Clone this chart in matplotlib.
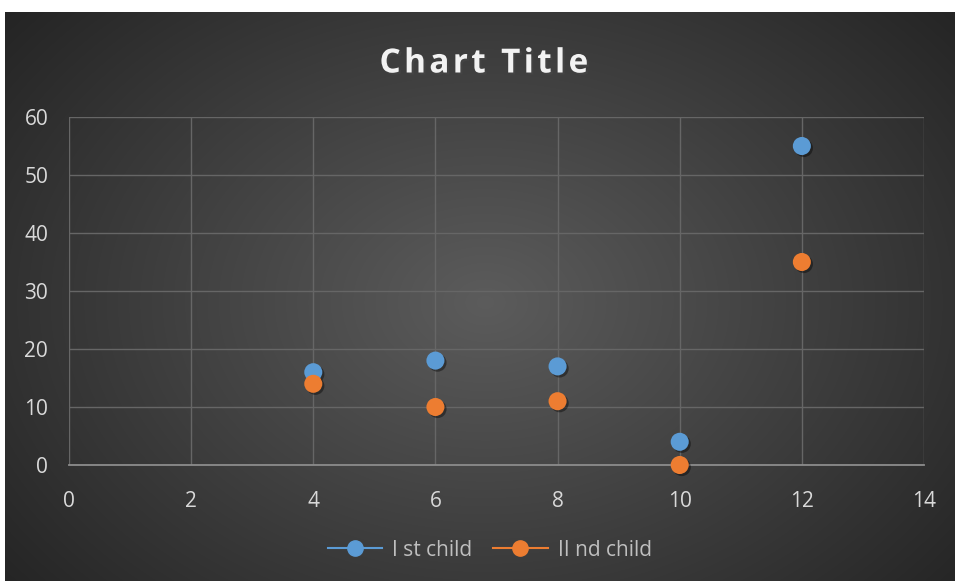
import numpy as np
import matplotlib.pyplot as plt
import matplotlib.patheffects as pe
from matplotlib.lines import Line2D

# series data
x_vals = [4, 6, 8, 10, 12]
first_child = [16, 18, 17, 4, 55]
second_child = [14, 10, 11, 0, 35]
labels = ['I st child', 'II nd child']
colors = ['#5b9bd5', '#ed7d31']
title = 'Chart Title'

plt.rcParams['font.family'] = ['Open Sans', 'DejaVu Sans']

fig = plt.figure(figsize=(9.55, 5.81), dpi=100)
fig.patch.set_facecolor('white')

# dark radial gradient behind the chart
bg = fig.add_axes([5 / 955, 0, 950 / 955, 569 / 581])
bg.set_axis_off()
h, w = 569, 950
yy, xx = np.mgrid[0:h, 0:w]
r = np.sqrt(((xx - 480) / 600) ** 2 + ((yy - 290) / 440) ** 2)
shade = np.clip(0.36 - 0.21 * r, 0.14, 0.36)
bg.imshow(np.dstack([shade] * 3), aspect='auto', interpolation='bilinear')

ax = fig.add_axes([69 / 955, 1 - 465 / 581, 855 / 955, 348 / 581])
ax.set_facecolor('none')
ax.set_xlim(0, 14)
ax.set_ylim(0, 60)
ax.set_xticks(range(0, 15, 2))
ax.set_yticks(range(0, 61, 10))
ax.grid(True, color='#666666', linewidth=1)
ax.set_axisbelow(True)
for side in ['top', 'right', 'left']:
    ax.spines[side].set_visible(False)
ax.spines['bottom'].set_color('#8c8c8c')
ax.spines['bottom'].set_linewidth(1.3)
ax.tick_params(length=0, labelsize=15, colors='#d9d9d9')
ax.tick_params(axis='x', pad=19)
ax.tick_params(axis='y', pad=15)

shadow = [pe.SimplePatchShadow(offset=(1.5, -1.5), alpha=0.4, shadow_rgbFace='black'), pe.Normal()]
for ys, c in zip([first_child, second_child], colors):
    ax.plot(x_vals, ys, 'o', color=c, markersize=13, markeredgewidth=0,
            path_effects=shadow, clip_on=False, zorder=3)

# letter-spaced title
fig.text(0.507, 1 - 64 / 581, '\u200a'.join(title), ha='center', va='center',
         fontsize=24, fontweight='bold', color='#f2f2f2',
         path_effects=[pe.withSimplePatchShadow(offset=(1.5, -1.5), alpha=0.5)])

handles = [Line2D([], [], color=c, marker='o', markersize=11, linewidth=1.5) for c in colors]
fig.legend(handles, labels, loc='center', bbox_to_anchor=(0.513, 1 - 550 / 581), ncol=2,
           frameon=False, fontsize=15, labelcolor='#bfbfbf', handlelength=2.6,
           columnspacing=1.0, handletextpad=0.5)

fig.savefig('out.png', dpi=100, facecolor=fig.get_facecolor())
